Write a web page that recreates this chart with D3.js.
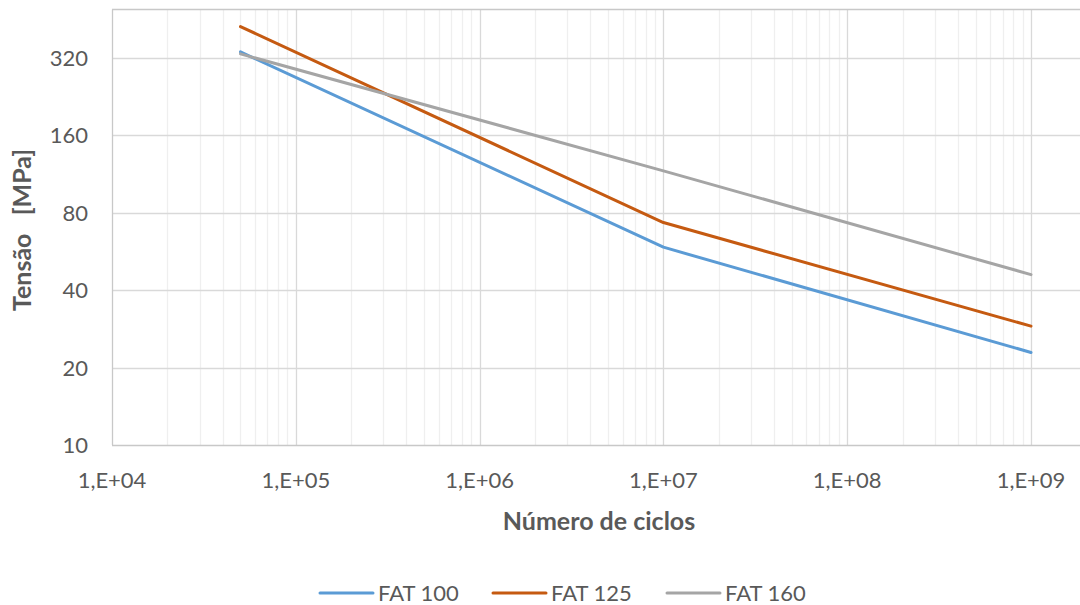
<!DOCTYPE html>
<html lang='pt'>
  <head>
    <meta charset='utf-8'>
    <style type='text/css'>
      body {margin: 0; background-color: #fff;}
      #chart {width: 1080px; height: 605px; overflow: hidden;}
      text {font-family: Lato, 'Open Sans', sans-serif; fill: #595959;}
    </style>
  </head>
  <body>
    <div id='chart'><svg width='1080' height='605'></svg></div>
    <script src='https://d3js.org/d3.v7.min.js'></script>
    <script type='text/javascript'>
        // Data
        var cycles   = [5e4, 1e7, 1e9];
        var fat100   = [338, 58.8, 22.9];
        var fat125   = [424, 73.3, 29.0];
        var fat160   = [332, 116.5, 46.0];
        var seriesNames = ["FAT 100", "FAT 125", "FAT 160"];
        var xTicks = [1e4, 1e5, 1e6, 1e7, 1e8, 1e9];
        var xTickLabels = ["1,E+04", "1,E+05", "1,E+06", "1,E+07", "1,E+08", "1,E+09"];
        var yTicks = [10, 20, 40, 80, 160, 320];

        var colors = ["#5B9BD5", "#C55A11", "#A5A5A5"];
        var series = [fat100, fat125, fat160].map(function(vals, i) {
          return {name: seriesNames[i], color: colors[i],
                  points: vals.map(function(v, j) { return {n: cycles[j], s: v}; })};
        });

        var svg = d3.select("#chart svg");

        // Plot area (chart is cropped at the right and top)
        var plotL = 112, plotT = 9.5, plotB = 445, plotR = 1080;
        var x = d3.scaleLog().base(10)
            .domain([1e4, Math.pow(10, 9 + (plotR - 1031) / 183.8)])
            .range([plotL, plotR]);
        var y = d3.scaleLog().base(2)
            .domain([10, 320 * Math.pow(2, 48.5 / 77.4)])
            .range([plotB, plotT]);

        // minor vertical gridlines
        var minor = [];
        for (var e = 4; e <= 9; e++) {
          for (var k = 2; k <= 9; k++) {
            var v = k * Math.pow(10, e);
            if (v < x.domain()[1]) minor.push(v);
          }
        }
        svg.append("g").selectAll("line").data(minor).enter().append("line")
          .attr("x1", function(d) { return Math.round(x(d)) + 0.5; })
          .attr("x2", function(d) { return Math.round(x(d)) + 0.5; })
          .attr("y1", plotT).attr("y2", plotB)
          .attr("stroke", "#efefef").attr("stroke-width", 1.3);

        // major vertical gridlines
        svg.append("g").selectAll("line").data(xTicks.slice(1)).enter().append("line")
          .attr("x1", function(d) { return Math.round(x(d)) + 0.5; })
          .attr("x2", function(d) { return Math.round(x(d)) + 0.5; })
          .attr("y1", plotT).attr("y2", plotB)
          .attr("stroke", "#d9d9d9").attr("stroke-width", 1.3);

        // horizontal gridlines
        svg.append("g").selectAll("line").data(yTicks.slice(1)).enter().append("line")
          .attr("x1", plotL).attr("x2", plotR)
          .attr("y1", function(d) { return Math.round(y(d)) + 0.5; })
          .attr("y2", function(d) { return Math.round(y(d)) + 0.5; })
          .attr("stroke", "#d9d9d9").attr("stroke-width", 1.3);

        // top border, left and bottom axis lines
        svg.append("line").attr("x1", plotL).attr("x2", plotR)
          .attr("y1", plotT).attr("y2", plotT)
          .attr("stroke", "#c8c8c8").attr("stroke-width", 1.3);
        svg.append("line").attr("x1", plotL + 0.5).attr("x2", plotL + 0.5)
          .attr("y1", plotT).attr("y2", plotB)
          .attr("stroke", "#c8c8c8").attr("stroke-width", 1.3);
        svg.append("line").attr("x1", plotL).attr("x2", plotR)
          .attr("y1", plotB + 0.5).attr("y2", plotB + 0.5)
          .attr("stroke", "#c8c8c8").attr("stroke-width", 1.3);

        // tick labels
        svg.append("g").selectAll("text").data(xTicks).enter().append("text")
          .attr("x", function(d) { return x(d); })
          .attr("y", 488)
          .attr("text-anchor", "middle")
          .style("font-size", "22px")
          .text(function(d, i) { return xTickLabels[i]; });

        svg.append("g").selectAll("text").data(yTicks).enter().append("text")
          .attr("x", 88)
          .attr("y", function(d) { return y(d) + 8; })
          .attr("text-anchor", "end")
          .style("font-size", "22px")
          .text(function(d) { return d; });

        // axis titles
        svg.append("text")
          .attr("x", 599).attr("y", 530)
          .attr("text-anchor", "middle")
          .style("font-size", "25px").style("font-weight", "bold")
          .text("Número de ciclos");

        svg.append("text")
          .attr("transform", "translate(31,230) rotate(-90)")
          .attr("text-anchor", "middle")
          .style("font-size", "25px").style("font-weight", "bold")
          .attr("xml:space", "preserve")
          .text("Tensão   [MPa]");

        // series lines
        var line = d3.line()
          .x(function(d) { return x(d.n); })
          .y(function(d) { return y(d.s); });

        svg.append("g").selectAll("path").data(series).enter().append("path")
          .attr("d", function(d) { return line(d.points); })
          .attr("fill", "none")
          .attr("stroke", function(d) { return d.color; })
          .attr("stroke-width", 3)
          .attr("stroke-linecap", "round")
          .attr("stroke-linejoin", "round");

        // legend
        var legendX = [320, 493, 667];
        var legend = svg.append("g").selectAll("g").data(series).enter().append("g")
          .attr("transform", function(d, i) { return "translate(" + legendX[i] + ",593)"; });
        legend.append("line")
          .attr("x1", 0).attr("x2", 53).attr("y1", 0).attr("y2", 0)
          .attr("stroke", function(d) { return d.color; })
          .attr("stroke-width", 3).attr("stroke-linecap", "round");
        legend.append("text")
          .attr("x", 58).attr("y", 8)
          .style("font-size", "22px")
          .text(function(d) { return d.name; });
    </script>
  </body>
</html>
